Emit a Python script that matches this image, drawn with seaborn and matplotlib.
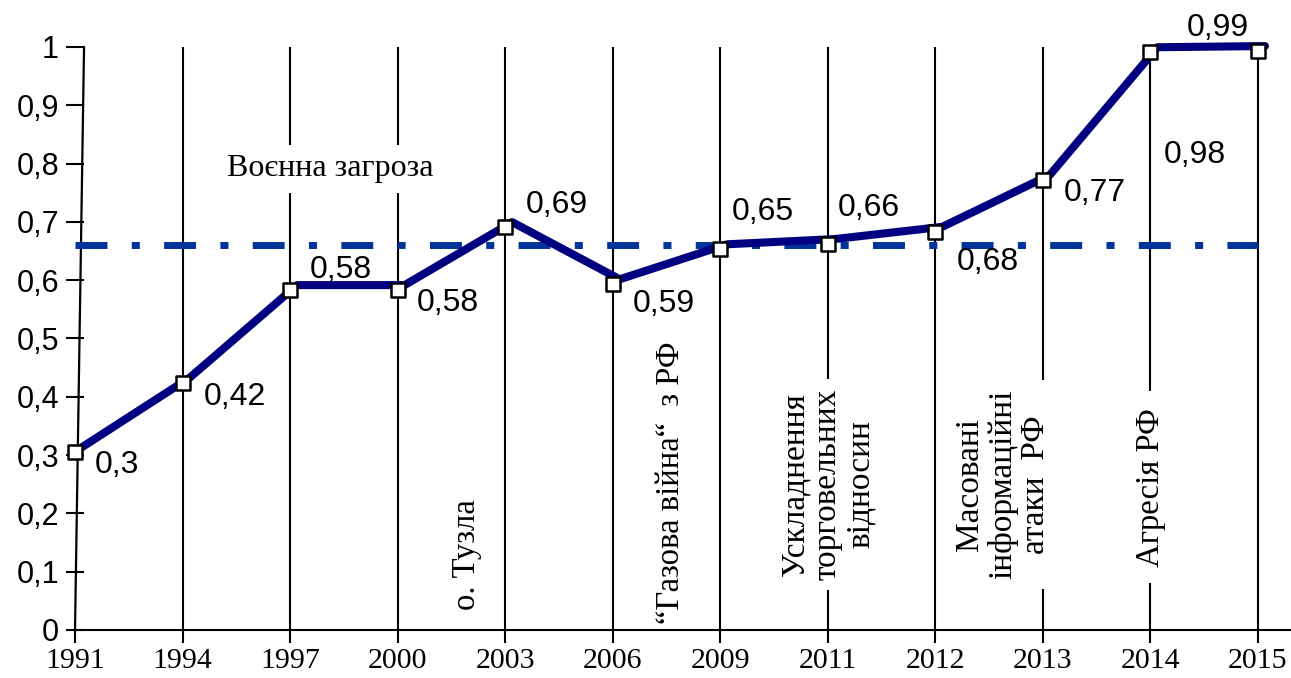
import matplotlib
matplotlib.use('Agg')
import matplotlib.pyplot as plt
import matplotlib.transforms as mtransforms
import numpy as np
import seaborn as sns

# data
years = ['1991', '1994', '1997', '2000', '2003', '2006', '2009',
         '2011', '2012', '2013', '2014', '2015']
index_values = [0.305, 0.424, 0.583, 0.583, 0.691, 0.593, 0.653,
                0.662, 0.683, 0.772, 0.991, 0.993]
value_labels = ['0,3', '0,42', '0,58', '0,58', '0,69', '0,59', '0,65',
                '0,66', '0,68', '0,77', '0,98', '0,99']
threshold = 0.66
y_ticks = [0, 0.1, 0.2, 0.3, 0.4, 0.5, 0.6, 0.7, 0.8, 0.9, 1]
events = ['Воєнна загроза', 'о. Тузла', '\u201cГазова війна\u201c  з РФ',
          'Ускладнення\nторговельних\nвідносин',
          'Масовані\nінформаційні\nатаки  РФ', 'Агресія РФ']

# where things sit (styling, not data): x, y, rotation, size, box pad
label_offsets = [(42, 13), (52, 14), (51, -20), (50, 13), (52, -22), (51, 20),
                 (43, -37), (41, -36), (52, 30), (52, 13), (44, 103), (-40, -23)]
event_places = [(2.37, 0.791, 0, 23, 0.3), (3.64, 0.129, 90, 23.5, 0.2),
                (5.54, 0.252, 90, 23.5, 0.1), (7.0, 0.250, 90, 24, 0.3),
                (8.63, 0.250, 90, 24, 0.3), (10.0, 0.245, 90, 23.5, 0.5)]

sns.set_style('white')
plt.rcParams['font.family'] = ['Liberation Sans', 'DejaVu Sans']
plt.rcParams['text.color'] = 'black'
serif = ['Liberation Serif', 'DejaVu Serif']

fig = plt.figure(figsize=(12.91, 6.78), dpi=100)
ax = fig.add_axes([0.0581, 0.0708, 0.9419, 0.8599])

pos = np.arange(len(years))

# vertical year lines and the odd slanted y axis
ax.vlines(pos[1:], 0, 1, color='black', lw=1.5, zorder=1)
ax.plot([0, 0.084], [0, 1], color='black', lw=1.6, zorder=1, clip_on=False)

# mean level
ax.hlines(threshold, pos[0], pos[-1], color='#003399', lw=5,
          linestyles=[(0, (4.6, 3.5, 1.16, 3.5))], zorder=3)

# the line is drawn a few pixels off the markers, like in the original
shift = ax.transData + mtransforms.ScaledTranslation(7 / 100, 5 / 100, fig.dpi_scale_trans)
sns.lineplot(x=pos, y=index_values, ax=ax, color='#000080', lw=5.8,
             transform=shift, zorder=4, clip_on=False)
sns.scatterplot(x=pos, y=index_values, ax=ax, marker='s', s=105, color='white',
                edgecolor='black', linewidth=1.8, zorder=6, clip_on=False)

for i in range(len(pos)):
    dx, dy = label_offsets[i]
    ax.annotate(value_labels[i], (pos[i], index_values[i]), xytext=(dx, -dy),
                textcoords='offset pixels', ha='center', va='center',
                fontsize=23, color='black', zorder=7, annotation_clip=False)

for text, (ex, ey, rot, fs, pad) in zip(events, event_places):
    ax.text(ex, ey, text, rotation=rot, ha='center', va='center',
            multialignment='center', family=serif, fontsize=fs, linespacing=1.1,
            color='black',
            bbox=dict(facecolor='white', edgecolor='none', boxstyle='square,pad=%g' % pad),
            zorder=5, clip_on=False)

ax.set_xlim(0, 11.307)
ax.set_ylim(0, 1)
ax.set_xticks(pos, years)
ax.set_yticks(y_ticks, [('%g' % t).replace('.', ',') for t in y_ticks])
ax.tick_params(axis='x', bottom=True, direction='out', length=9, width=1.5, pad=4,
               labelsize=21.5, colors='black')
ax.tick_params(axis='y', left=True, direction='inout', length=13, width=1.5, pad=5,
               labelsize=22, colors='black')
for lab in ax.get_xticklabels():
    lab.set_family(serif)

for s in ['left', 'top', 'right']:
    ax.spines[s].set_visible(False)
ax.spines['bottom'].set_linewidth(1.5)
ax.spines['bottom'].set_color('black')
ax.spines['bottom'].set_zorder(2)

fig.savefig('out.png', dpi=100)
